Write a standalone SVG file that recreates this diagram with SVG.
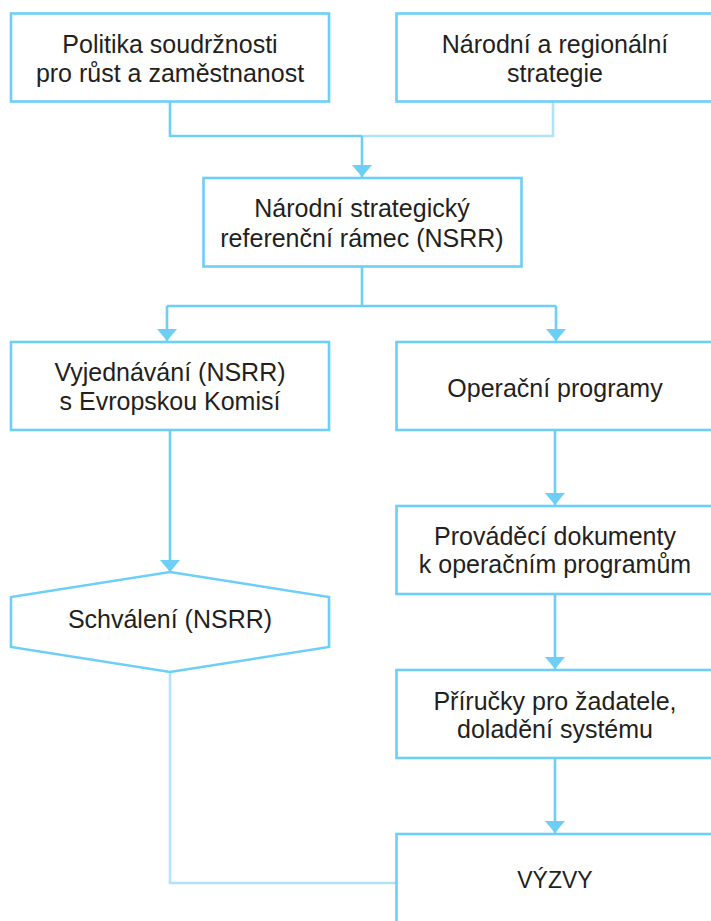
<svg xmlns="http://www.w3.org/2000/svg" width="711" height="921" viewBox="0 0 711 921">
<style>
.box{fill:#ffffff;stroke:#6dcff6;stroke-width:2.6}
.t{font-family:"Liberation Sans",Arial,sans-serif;font-size:25px;fill:#231f20;text-anchor:middle}
.c{fill:none;stroke:#6dcff6;stroke-width:2.6}
.cl{fill:none;stroke:#b0e3f8;stroke-width:2.6}
</style>
<defs>
<marker id="ah" viewBox="0 -10 12 20" markerWidth="12" markerHeight="20" refX="12" refY="0" orient="auto" markerUnits="userSpaceOnUse">
<path d="M0,-10 L12,0 L0,10 Z" fill="#6dcff6"/>
</marker>
</defs>
<rect width="711" height="921" fill="#ffffff"/>
<g id="connectors">
<path class="cl" d="M362,136 H553 V101"/>
<path class="c" d="M170,101 V136 H362"/>
<path class="c" d="M362,136 V177" marker-end="url(#ah)"/>
<path class="c" d="M362,267 V306"/>
<path class="c" d="M167,306 H556"/>
<path class="c" d="M167,306 V341" marker-end="url(#ah)"/>
<path class="c" d="M556,306 V341" marker-end="url(#ah)"/>
<path class="c" d="M170,430 V572" marker-end="url(#ah)"/>
<path class="c" d="M555,430 V505" marker-end="url(#ah)"/>
<path class="c" d="M555,594 V669" marker-end="url(#ah)"/>
<path class="c" d="M555,758 V833" marker-end="url(#ah)"/>
<path class="cl" d="M170,672 V883 H401"/>
</g>
<g id="politika">
<rect class="box" x="11" y="13.5" width="318" height="88"/>
<text class="t" x="170" y="53">Politika soudržnosti</text>
<text class="t" x="170" y="82">pro růst a zaměstnanost</text>
</g>
<g id="narodni-regionalni">
<rect class="box" x="396.5" y="13.5" width="320" height="88"/>
<text class="t" x="555" y="53">Národní a regionální</text>
<text class="t" x="555" y="82">strategie</text>
</g>
<g id="nsrr">
<rect class="box" x="203.5" y="178" width="318" height="88.5"/>
<text class="t" x="362" y="217">Národní strategický</text>
<text class="t" x="362" y="247">referenční rámec (NSRR)</text>
</g>
<g id="vyjednavani">
<rect class="box" x="11" y="342" width="318" height="88"/>
<text class="t" x="170" y="381">Vyjednávání (NSRR)</text>
<text class="t" x="170" y="410">s Evropskou Komisí</text>
</g>
<g id="operacni">
<rect class="box" x="396.5" y="342" width="320" height="88"/>
<text class="t" x="555" y="397">Operační programy</text>
</g>
<g id="schvaleni">
<polygon class="box" points="170,572 329,597 329,647 170,672 11,647 11,597"/>
<text class="t" x="170" y="628">Schválení (NSRR)</text>
</g>
<g id="provadeci">
<rect class="box" x="396.5" y="506" width="320" height="88"/>
<text class="t" x="555" y="545">Prováděcí dokumenty</text>
<text class="t" x="555" y="573">k operačním programům</text>
</g>
<g id="prirucky">
<rect class="box" x="396.5" y="670" width="320" height="88"/>
<text class="t" x="555" y="710">Příručky pro žadatele,</text>
<text class="t" x="555" y="738">doladění systému</text>
</g>
<g id="vyzvy">
<rect class="box" x="396.5" y="834" width="320" height="110"/>
<text class="t" x="555" y="888" style="font-size:23px">VÝZVY</text>
</g>
</svg>
